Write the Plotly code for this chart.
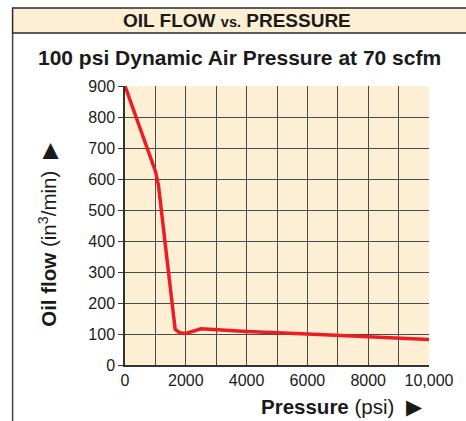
import plotly.graph_objects as go

pressure = [0, 1000, 1100, 1650, 1800, 2000, 2500, 4000, 6000, 8000, 10000]
oil_flow = [900, 625, 580, 115, 104, 102, 117, 108, 100, 91, 82]
x_tickvals = [0, 2000, 4000, 6000, 8000, 10000]
x_ticktext = ["0", "2000", "4000", "6000", "8000", "10,000"]
y_tickvals = [0, 100, 200, 300, 400, 500, 600, 700, 800, 900]

W, H = 466, 421
L, R, T, B = 125, 436, 86, 365
FONT = "Liberation Sans, Arial, Helvetica, sans-serif"

def px(x):
    return (x - L) / (R - L)

def py(y):
    return (B - y) / (B - T)

fig = go.Figure()
fig.add_trace(go.Scatter(x=pressure, y=oil_flow, mode="lines",
                         line=dict(color="#ec1c24", width=3.5), hoverinfo="skip"))

fig.update_layout(
    width=W, height=H,
    margin=dict(l=L, r=W - R, t=T, b=H - B, pad=0),
    paper_bgcolor="white", plot_bgcolor="#fdefd3",
    showlegend=False,
    font=dict(family=FONT, color="#1a1a1a", size=15),
)
fig.update_xaxes(range=[0, 10000], tickvals=list(range(0, 10001, 1000)),
                 ticktext=[x_ticktext[x_tickvals.index(v)] if v in x_tickvals else "" for v in range(0, 10001, 1000)],
                 showgrid=True, gridcolor="#4a4a4a", gridwidth=1, zeroline=False,
                 showline=True, linecolor="#333", linewidth=1.5, ticks="", ticklen=0,
                 tickfont=dict(size=16))
fig.update_yaxes(range=[0, 900], tickvals=y_tickvals, showgrid=True, gridcolor="#4a4a4a",
                 gridwidth=1, zeroline=False, showline=True, linecolor="#333", linewidth=1.5,
                 ticks="outside", ticklen=5, tickcolor="#333", tickfont=dict(size=16))

shapes = [
    dict(type="rect", xref="paper", yref="paper", x0=px(10), x1=px(480), y0=py(8), y1=py(33),
         fillcolor="#fdefd3", line=dict(color="#2a2a2a", width=1.5), layer="below"),
    dict(type="line", xref="paper", yref="paper", x0=px(10), x1=px(10), y0=py(33), y1=py(430),
         line=dict(color="#444", width=1.5)),
]
fig.update_layout(shapes=shapes)

ann = [
    dict(text="<b>OIL FLOW <span style='font-size:14.5px'>vs.</span> PRESSURE</b>", x=px(240), y=py(21),
         font=dict(size=19)),
    dict(text="<b>100 psi Dynamic Air Pressure at 70 scfm</b>", x=px(242.5), y=py(57),
         font=dict(size=21)),
    dict(text="<b>Oil flow</b> (in<sup>3</sup>/min)  ▶", x=px(46), y=py(235), textangle=-90,
         font=dict(size=20.5)),
    dict(text="<b>Pressure</b> (psi)  ▶", x=px(347.5), y=py(406), font=dict(size=20.5)),
]
for a in ann:
    a.update(xref="paper", yref="paper", showarrow=False, xanchor="center", yanchor="middle")
fig.update_layout(annotations=ann)

fig.write_html("out.html", config={"displayModeBar": False},
               post_script="document.body.style.margin='0';document.body.style.overflow='hidden';")
